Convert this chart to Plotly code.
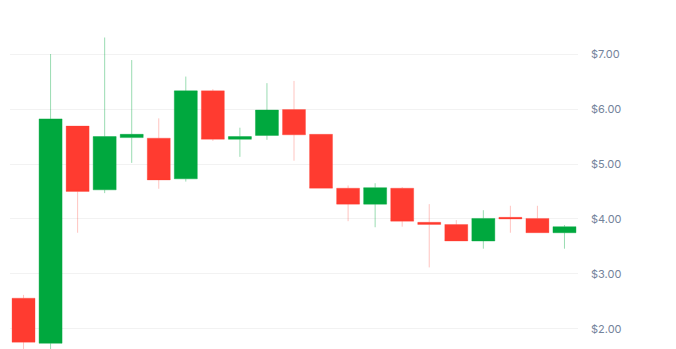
import plotly.graph_objects as go

periods = [f"P{i+1}" for i in range(21)]
open_ = [2.56, 1.74, 5.69, 4.53, 5.48, 5.47, 4.73, 6.33, 5.45, 5.52, 5.99, 5.54, 4.56, 4.27, 4.56, 3.94, 3.90, 3.60, 4.03, 4.01, 3.75]
high = [2.62, 7.00, 5.69, 7.30, 6.89, 5.83, 6.59, 6.36, 5.66, 6.47, 6.51, 5.54, 4.61, 4.65, 4.58, 4.27, 3.98, 4.16, 4.24, 4.24, 3.89]
low = [1.60, 1.60, 3.75, 4.47, 5.02, 4.55, 4.68, 5.42, 5.13, 5.44, 5.06, 4.56, 3.96, 3.85, 3.86, 3.12, 3.60, 3.46, 3.75, 3.75, 3.46]
close = [1.76, 5.82, 4.50, 5.50, 5.54, 4.71, 6.33, 5.45, 5.50, 5.98, 5.53, 4.56, 4.27, 4.57, 3.96, 3.90, 3.60, 4.01, 4.00, 3.75, 3.86]
tick_vals = [2, 3, 4, 5, 6, 7]
tick_text = ["$2.00", "$3.00", "$4.00", "$5.00", "$6.00", "$7.00"]

fig = go.Figure(go.Candlestick(
    x=periods, open=open_, high=high, low=low, close=close,
    increasing=dict(fillcolor="#00A83E", line=dict(color="rgba(0,168,62,0.4)", width=1)),
    decreasing=dict(fillcolor="#FF3B30", line=dict(color="rgba(255,59,48,0.3)", width=1)),
    whiskerwidth=0,
    showlegend=False,
))

fig.update_layout(
    width=676, height=349,
    margin=dict(l=10, r=98, t=0, b=0),
    paper_bgcolor="white", plot_bgcolor="white",
    boxgap=0.15, boxgroupgap=0,
    xaxis=dict(type="category", visible=False, rangeslider=dict(visible=False),
               range=[-0.5, 20.5], showgrid=False),
    yaxis=dict(side="right", range=[1.636, 7.982], tickvals=tick_vals, ticktext=tick_text,
               showgrid=True, gridcolor="#f2f2f2", gridwidth=1,
               zeroline=False, showline=False,
               ticks="", ticklabelstandoff=12,
               tickfont=dict(family="Inter, Open Sans, sans-serif", size=11, color="#74839b")),
)

fig.write_html("out.html")
